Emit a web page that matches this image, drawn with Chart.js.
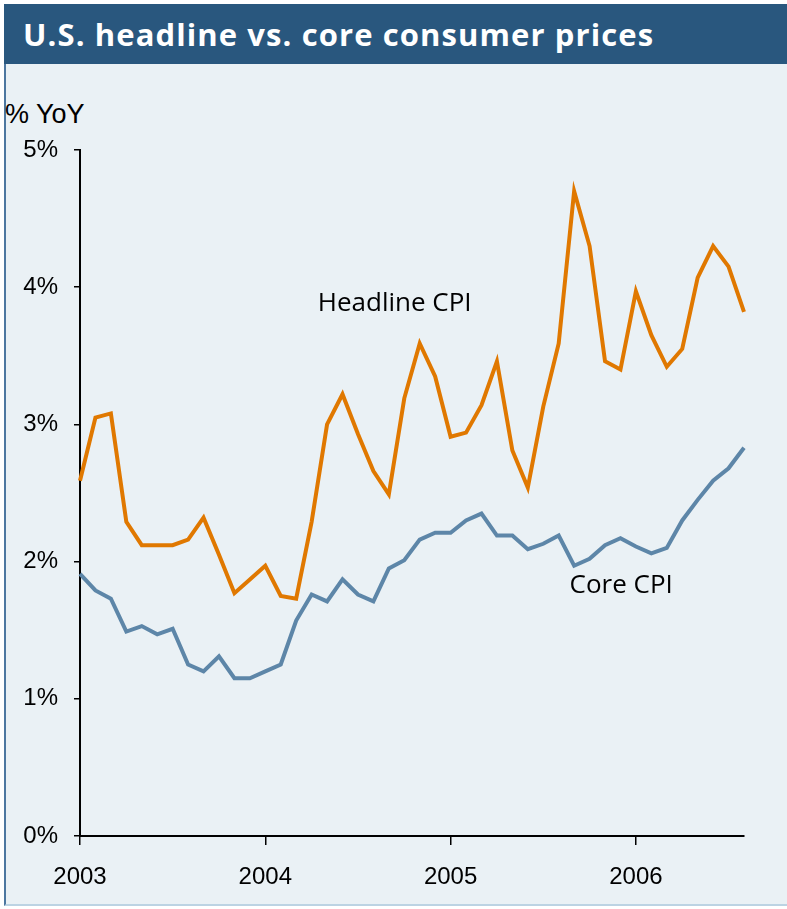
<!DOCTYPE html>
<html>
<head>
<meta charset="utf-8">
<script src="https://cdn.jsdelivr.net/npm/chart.js@4/dist/chart.umd.min.js"></script>
<style>
  html, body { margin: 0; padding: 0; background: #ffffff; }
  #panel {
    position: absolute; left: 4px; top: 4px; width: 783px; height: 902px;
    background: #eaf1f5; border-left: 2px solid #4d77a0; border-bottom: 2px solid #bcd3e3;
    box-sizing: border-box;
  }
  #titlebar {
    position: absolute; left: 4px; top: 4px; width: 783px; height: 60px;
    background: #29577e; color: #ffffff;
    font-family: "Open Sans", "Noto Sans", sans-serif; font-weight: bold; font-size: 31px;
    letter-spacing: 1.1px;
    line-height: 60px; box-sizing: border-box; padding-left: 19px;
  }
  #unit {
    position: absolute; left: 5px; top: 99px;
    font-family: "Liberation Sans", Arial, sans-serif; font-size: 27px; color: #000;
  }
  #wrap { position: absolute; left: 0; top: 0; width: 787px; height: 909px; }
</style>
</head>
<body>
<div id="panel"></div>
<div id="titlebar">U.S. headline vs. core consumer prices</div>
<div id="unit">% YoY</div>
<div id="wrap"><canvas id="chart" width="787" height="909"></canvas></div>
<script>
  // monthly series, Jan 2003 .. Aug 2006
  const startYear = 2003;
  const yearTicks = ['2003', '2004', '2005', '2006'];

  const headlineCPI = [
    2.59, 3.05, 3.08, 2.29, 2.12, 2.12, 2.12, 2.16, 2.32, 2.05, 1.77, 1.87,
    1.97, 1.75, 1.73, 2.29, 3.00, 3.22, 2.93, 2.66, 2.49, 3.19, 3.59, 3.35,
    2.91, 2.94, 3.14, 3.46, 2.81, 2.54, 3.13, 3.59, 4.70, 4.30, 3.46, 3.40,
    3.97, 3.65, 3.42, 3.55, 4.07, 4.30, 4.15, 3.82
  ];
  const coreCPI = [
    1.91, 1.79, 1.73, 1.49, 1.53, 1.47, 1.51, 1.25, 1.20, 1.31, 1.15, 1.15,
    1.20, 1.25, 1.57, 1.76, 1.71, 1.87, 1.76, 1.71, 1.95, 2.01, 2.16, 2.21,
    2.21, 2.30, 2.35, 2.19, 2.19, 2.09, 2.13, 2.19, 1.97, 2.02, 2.12, 2.17,
    2.11, 2.06, 2.10, 2.30, 2.45, 2.59, 2.68, 2.83
  ];
  const yTicks = [0, 1, 2, 3, 4, 5];

  const toPoints = arr => arr.map((v, i) => ({ x: i, y: v }));

  // series annotations, placed in data units
  const seriesLabels = [
    { text: 'Headline CPI', x: 15.4, y: 3.83 },
    { text: 'Core CPI', x: 31.7, y: 1.77 }
  ];

  const labelPlugin = {
    id: 'seriesLabels',
    afterDatasetsDraw(chart) {
      const ctx = chart.ctx;
      const xs = chart.scales.x, ys = chart.scales.y;
      ctx.save();
      ctx.font = '26px "Open Sans", "Noto Sans", sans-serif';
      ctx.fillStyle = '#000';
      ctx.textAlign = 'left';
      ctx.textBaseline = 'alphabetic';
      seriesLabels.forEach(l => {
        ctx.fillText(l.text, xs.getPixelForValue(l.x), ys.getPixelForValue(l.y));
      });
      ctx.restore();
    }
  };

  new Chart(document.getElementById('chart'), {
    type: 'line',
    data: {
      datasets: [
        {
          label: 'Headline CPI',
          data: toPoints(headlineCPI),
          borderColor: '#e07800',
          borderWidth: 4,
          pointRadius: 0,
          tension: 0,
          clip: false
        },
        {
          label: 'Core CPI',
          data: toPoints(coreCPI),
          borderColor: '#5d86a8',
          borderWidth: 4,
          pointRadius: 0,
          tension: 0,
          clip: false
        }
      ]
    },
    options: {
      responsive: false,
      animation: false,
      events: [],
      layout: { padding: { top: 150, right: 43, left: 0, bottom: 0 } },
      plugins: { legend: { display: false }, tooltip: { enabled: false } },
      scales: {
        x: {
          type: 'linear',
          min: 0,
          max: headlineCPI.length - 1,
          afterFit(scale) { scale.height = 73; },
          afterBuildTicks(scale) {
            scale.ticks = yearTicks.map((t, i) => ({ value: i * 12 }));
          },
          ticks: {
            autoSkip: false,
            maxRotation: 0,
            padding: 18,
            color: '#000',
            font: { family: '"Liberation Sans", Arial, sans-serif', size: 24 },
            callback: v => String(startYear + v / 12)
          },
          grid: { drawOnChartArea: false, drawTicks: true, tickLength: 9, color: '#000', lineWidth: 1.5 },
          border: { color: '#000', width: 2 }
        },
        y: {
          min: 0,
          max: 5,
          afterFit(scale) { scale.width = 80; },
          afterBuildTicks(scale) {
            scale.ticks = yTicks.map(v => ({ value: v }));
          },
          ticks: {
            padding: 16,
            color: '#000',
            font: { family: '"Liberation Sans", Arial, sans-serif', size: 24 },
            callback: v => v + '%'
          },
          grid: { drawOnChartArea: false, drawTicks: true, tickLength: 6, color: '#000', lineWidth: 1.5 },
          border: { color: '#000', width: 2 }
        }
      }
    },
    plugins: [labelPlugin]
  });
</script>
</body>
</html>
